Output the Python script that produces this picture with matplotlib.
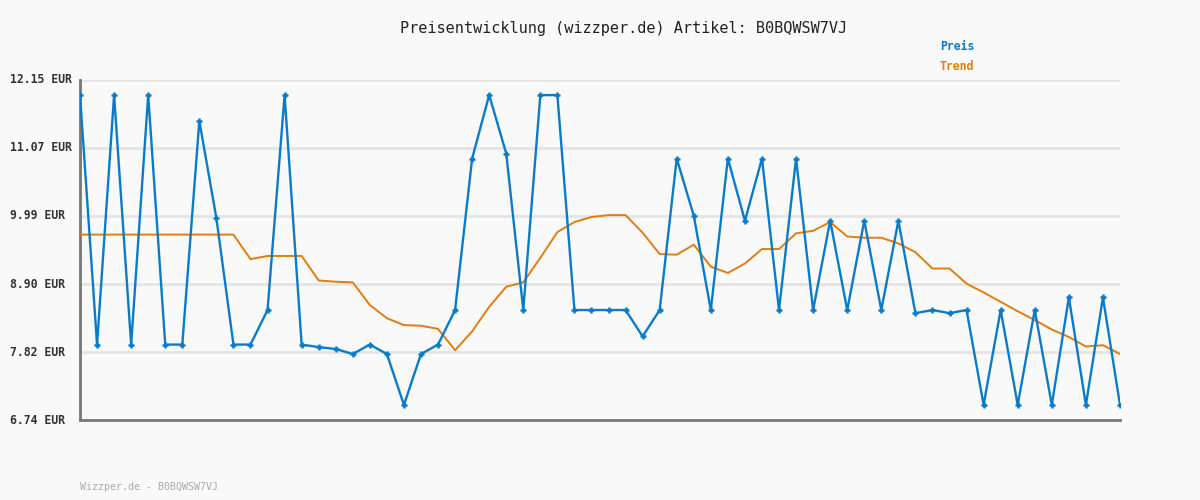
import matplotlib
matplotlib.use("Agg")
import matplotlib.pyplot as plt
import numpy as np

# Preis (blue) and Trend (orange), one value per data point
preis = [11.91, 7.94, 11.91, 7.94, 11.91, 7.94, 7.94, 11.50, 9.95, 7.94,
         7.94, 8.49, 11.91, 7.94, 7.90, 7.87, 7.79, 7.94, 7.79, 6.98,
         7.79, 7.94, 8.49, 10.90, 11.91, 10.98, 8.49, 11.91, 11.91, 8.49,
         8.49, 8.49, 8.49, 8.07, 8.49, 10.90, 9.99, 8.49, 10.90, 9.91,
         10.90, 8.49, 10.90, 8.49, 9.91, 8.49, 9.91, 8.49, 9.91, 8.44,
         8.49, 8.44, 8.49, 6.98, 8.49, 6.98, 8.49, 6.98, 8.69, 6.98,
         8.69, 6.98]
trend = [9.69, 9.69, 9.69, 9.69, 9.69, 9.69, 9.69, 9.69, 9.69, 9.69,
         9.30, 9.35, 9.35, 9.35, 8.96, 8.94, 8.93, 8.57, 8.36, 8.25,
         8.24, 8.19, 7.85, 8.15, 8.54, 8.86, 8.93, 9.32, 9.73, 9.89,
         9.97, 10.00, 10.00, 9.72, 9.38, 9.37, 9.53, 9.18, 9.08, 9.23,
         9.46, 9.46, 9.71, 9.75, 9.89, 9.66, 9.64, 9.64, 9.55, 9.41,
         9.15, 9.15, 8.91, 8.77, 8.62, 8.47, 8.33, 8.18, 8.06, 7.91,
         7.93, 7.79]
y_ticks = [6.74, 7.82, 8.90, 9.99, 11.07, 12.15]
y_labels = ["6.74 EUR", "7.82 EUR", "8.90 EUR", "9.99 EUR", "11.07 EUR", "12.15 EUR"]
artikel = "B0BQWSW7VJ"

BG = "#f9f9f9"
BLUE = "#0a7bc8"
ORANGE = "#e07d10"
MONO = ["DejaVu Sans Mono"]

fig = plt.figure(figsize=(12, 5), dpi=100, facecolor=BG)
ax = fig.add_axes([80 / 1200, 80 / 500, 1040 / 1200, 340 / 500], facecolor=BG)

x = np.arange(len(preis))
ax.plot(x, trend, color=ORANGE, linewidth=1.4, zorder=3)
ax.plot(x, preis, color=BLUE, linewidth=1.7, marker="+", markersize=5,
        markeredgewidth=1.8, zorder=4)

ax.set_xlim(0, len(preis) - 1)
ax.set_ylim(y_ticks[0], y_ticks[-1])
ax.set_yticks(y_ticks)
ax.set_yticklabels([])
ax.set_xticks([])
ax.tick_params(length=0)
ax.grid(axis="y", color="#e4e4e4", linewidth=2, zorder=0)

for s in ["top", "right"]:
    ax.spines[s].set_visible(False)
for s in ["left", "bottom"]:
    ax.spines[s].set_color("#777777")
    ax.spines[s].set_linewidth(2.0)

# y labels left aligned at fixed x in pixels
for v, lab in zip(y_ticks, y_labels):
    ax.annotate(lab, xy=(0, v), xycoords=("figure pixels", "data"),
                xytext=(10, 0), textcoords="offset pixels",
                ha="left", va="center", fontsize=8.3, fontweight="bold",
                color="#333333", family=MONO)

fig.text(624 / 1200, 1 - 28 / 500,
         "Preisentwicklung (wizzper.de) Artikel: " + artikel,
         ha="center", va="center", fontsize=11, color="#222222", family=MONO)
fig.text(940 / 1200, 1 - 46 / 500, "Preis", ha="left", va="center",
         fontsize=8.3, fontweight="bold", color=BLUE, family=MONO)
fig.text(940 / 1200, 1 - 67 / 500, "Trend", ha="left", va="center",
         fontsize=8.3, fontweight="bold", color=ORANGE, family=MONO)
fig.text(80 / 1200, 1 - 487 / 500, "Wizzper.de - " + artikel, ha="left",
         va="center", fontsize=7.2, color="#aaaaaa", family=MONO)

fig.savefig("out.png", dpi=100, facecolor=BG)
